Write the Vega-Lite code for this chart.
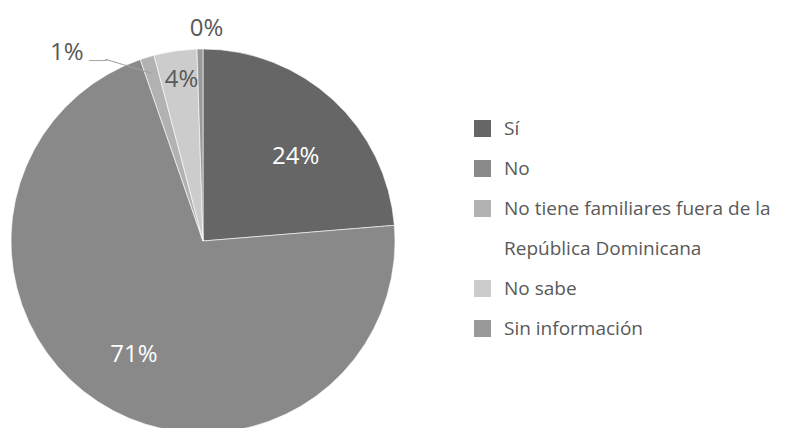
{
  "$schema": "https://vega.github.io/schema/vega-lite/v6.json",
  "width": 796,
  "height": 428,
  "autosize": "none",
  "padding": 0,
  "background": "white",
  "config": {"view": {"stroke": null}, "font": "Open Sans", "style": {"guide-label": {"lineHeight": 40}}},
  "data": {
    "values": [
      {"cat": "Sí", "value": 23.7, "label": "24%", "ord": 1},
      {"cat": "No", "value": 71.0, "label": "71%", "ord": 2},
      {"cat": "No tiene familiares fuera de la República Dominicana", "value": 1.2, "label": "1%", "ord": 3},
      {"cat": "No sabe", "value": 3.6, "label": "4%", "ord": 4},
      {"cat": "Sin información", "value": 0.5, "label": "0%", "ord": 5}
    ]
  },
  "encoding": {
    "theta": {"field": "value", "type": "quantitative", "stack": true},
    "order": {"field": "ord", "type": "quantitative"}
  },
  "layer": [
    {
      "mark": {"type": "arc", "x": 203, "y": 241, "outerRadius": 192, "stroke": "white", "strokeWidth": 0.6},
      "encoding": {
        "color": {
          "field": "cat", "type": "nominal",
          "sort": ["Sí", "No", "No tiene familiares fuera de la República Dominicana", "No sabe", "Sin información"],
          "scale": {
            "domain": ["Sí", "No", "No tiene familiares fuera de la República Dominicana", "No sabe", "Sin información"],
            "range": ["#666666", "#898989", "#b2b2b2", "#cccccc", "#999999"]
          },
          "legend": {
            "title": null,
            "orient": "none",
            "legendX": 473,
            "legendY": 119,
            "symbolType": "square",
            "symbolSize": 289,
            "symbolStrokeWidth": 0,
            "labelFont": "Open Sans",
            "labelFontSize": 19,
            "labelColor": "#595959",
            "labelOffset": 12,
            "labelLimit": 400,
            "rowPadding": 20,
            "labelExpr": "datum.label == 'No tiene familiares fuera de la República Dominicana' ? ['No tiene familiares fuera de la', 'República Dominicana'] : datum.label",
            "labelBaseline": "middle"
          }
        }
      }
    },
    {
      "mark": {"type": "text", "x": 203, "y": 241, "radius": 180, "dx": -22, "dy": 4.5, "angle": 17, "fontSize": 10, "font": "DejaVu Sans Mono", "fill": "#a0a0a0", "align": "center", "baseline": "middle"},
      "encoding": {
        "text": {"condition": {"test": "datum.ord == 3", "value": "────────"}, "value": ""}
      }
    },
    {
      "mark": {"type": "text", "x": 203, "y": 241, "radius": 180, "dx": -52.5, "dy": -8, "fontSize": 10, "font": "DejaVu Sans Mono", "fill": "#a0a0a0", "align": "center", "baseline": "middle"},
      "encoding": {
        "text": {"condition": {"test": "datum.ord == 3", "value": "───"}, "value": ""}
      }
    },
    {
      "mark": {"type": "text", "x": 203, "y": 241, "radius": 125, "dx": 8, "dy": 8, "fontSize": 24, "fill": "white", "font": "Open Sans"},
      "encoding": {
        "text": {"condition": {"test": "datum.cat == 'Sí'", "field": "label"}, "value": ""}
      }
    },
    {
      "mark": {"type": "text", "x": 203, "y": 241, "radius": 132, "dx": 3, "dy": 3, "fontSize": 24, "fill": "white", "font": "Open Sans"},
      "encoding": {
        "text": {"condition": {"test": "datum.cat == 'No'", "field": "label"}, "value": ""}
      }
    },
    {
      "mark": {"type": "text", "x": 203, "y": 241, "radius": 163, "dx": 2, "fontSize": 24, "fill": "#595959", "font": "Open Sans"},
      "encoding": {
        "text": {"condition": {"test": "datum.cat == 'No sabe'", "field": "label"}, "value": ""}
      }
    },
    {
      "mark": {"type": "text", "x": 203, "y": 241, "radius": 200, "dx": -78, "dy": 3, "fontSize": 24, "fill": "#595959", "font": "Open Sans"},
      "encoding": {
        "text": {"condition": {"test": "datum.ord == 3", "field": "label"}, "value": ""}
      }
    },
    {
      "mark": {"type": "text", "x": 203, "y": 241, "radius": 213, "dx": 7, "dy": 1, "fontSize": 24, "fill": "#595959", "font": "Open Sans"},
      "encoding": {
        "text": {"condition": {"test": "datum.ord == 5", "field": "label"}, "value": ""}
      }
    }
  ]
}
